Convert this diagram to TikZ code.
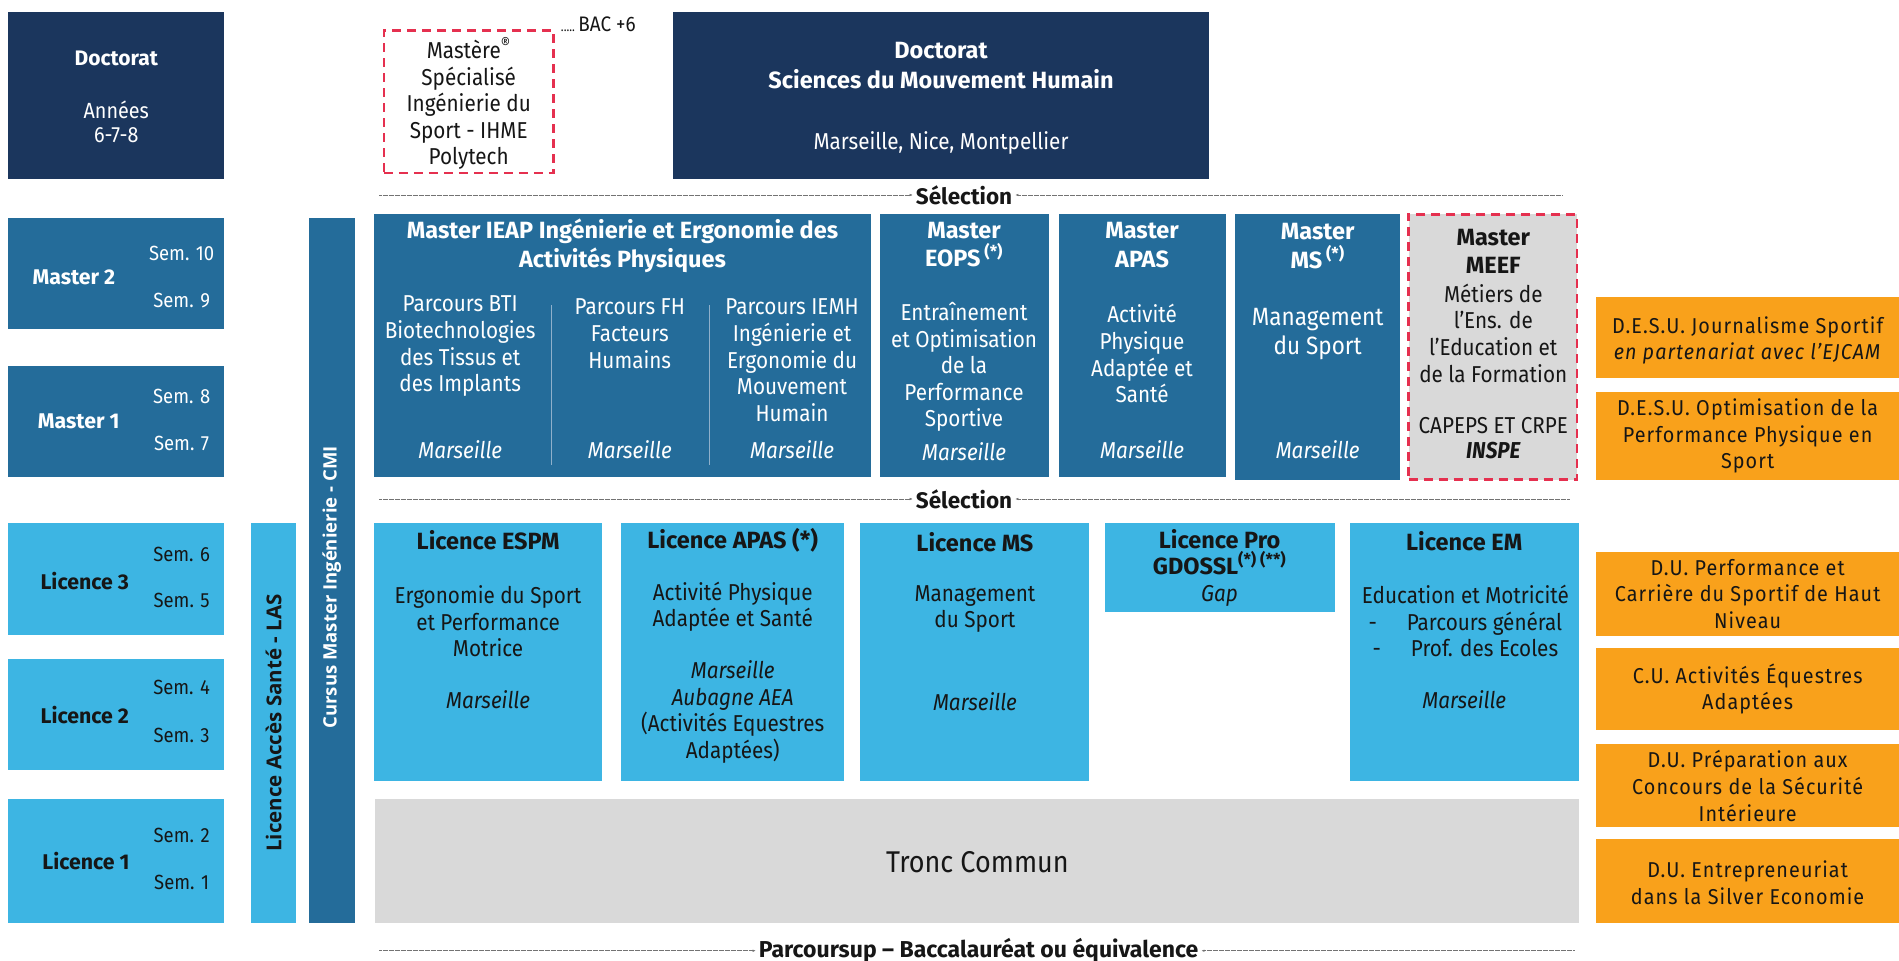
\documentclass[tikz,border=0pt]{standalone}
\usepackage{fontspec}
\setmainfont{Fira Sans}
\newfontfamily\bodyf{Fira Sans}[FakeStretch=0.9]
\newfontfamily\vfont{Open Sans}
\newfontfamily\orfont{Fira Sans}[FakeStretch=0.92,LetterSpace=5]
\usetikzlibrary{arrows.meta}
\definecolor{navy}{HTML}{1B365D}
\definecolor{mblue}{HTML}{246C9A}
\definecolor{lblue}{HTML}{3DB5E3}
\definecolor{lgray}{HTML}{D9D9D9}
\definecolor{orng}{HTML}{F9A11B}
\definecolor{dred}{HTML}{E5304F}
\definecolor{txt}{HTML}{161616}
\definecolor{divc}{HTML}{8FB0CB}
\newcommand\mkbox[6]{\node[#2, anchor=north west, minimum width={(#5-#3)*1.2111pt}, minimum height={(#6-#4)*1.2111pt}] (#1) at (#3,#4) {};}
\tikzset{
  bx/.style={inner sep=0pt, outer sep=0pt, draw=none},
  navyb/.style={bx, fill=navy},
  medb/.style={bx, fill=mblue},
  ltb/.style={bx, fill=lblue},
  grayb/.style={bx, fill=lgray},
  orb/.style={bx, fill=orng},
  redd/.style={draw=dred, line width=2.6pt, dash pattern=on 9pt off 6pt},
  body/.style={inner sep=0pt, align=center, font=\bodyf\fontsize{23}{26.6}\selectfont},
  ibody/.style={body, font=\bodyf\itshape\fontsize{23}{26.6}\selectfont},
  wbody/.style={body, text=white},
  wibody/.style={ibody, text=white},
  kbody/.style={body, text=txt},
  kibody/.style={ibody, text=txt},
  sem/.style={inner sep=0pt, font=\bodyf\fontsize{20.5}{24}\selectfont},
  ttl/.style={inner sep=0pt, align=center, font=\bfseries\fontsize{23.5}{28.5}\selectfont},
  wttl/.style={ttl, text=white},
  kttl/.style={ttl, text=txt},
  lab/.style={inner sep=0pt, font=\bfseries\fontsize{21.3}{25}\selectfont},
  obody/.style={inner sep=0pt, align=center, text=txt, font=\orfont\fontsize{21.5}{26.6}\selectfont},
  vtxt/.style={inner sep=0pt, rotate=90, font=\vfont\bfseries\fontsize{18.5}{22}\selectfont},
  seltxt/.style={inner xsep=3pt, inner ysep=0pt, text=txt, font=\bfseries\fontsize{22.5}{26}\selectfont},
  dl/.style={line width=0.5pt, draw=black!55, dash pattern=on 0.7pt off 0.5pt, -{Latex[length=3pt,width=2.5pt]}},
  divl/.style={line width=0.8pt, draw=divc}
}
\begin{document}
\begin{tikzpicture}[x=1.2111pt, y=-1.2111pt]
\useasboundingbox (0,0) rectangle (1568,793);

% ---------- left column ----------
\mkbox{doc}{navyb}{7}{10}{185}{148}
\node[lab, text=white, font=\bfseries\fontsize{21}{25}\selectfont] (docT) at (96,48) {Doctorat};
\node[wbody, font=\bodyf\fontsize{22}{23.5}\selectfont] (docY) at (96,100.5) {Années\\6-7-8};

\mkbox{m2}{medb}{7}{180}{185}{272}
\node[lab, text=white] (m2T) at (61,229) {Master 2};
\node[sem, text=white] (s10) at (150,209) {Sem. 10};
\node[sem, text=white] (s9) at (150,248) {Sem. 9};

\mkbox{m1}{medb}{7}{302}{185}{394}
\node[lab, text=white] (m1T) at (65,348) {Master 1};
\node[sem, text=white] (s8) at (150,327) {Sem. 8};
\node[sem, text=white] (s7) at (150,366) {Sem. 7};

\mkbox{l3}{ltb}{7}{432}{185}{524}
\node[lab, text=txt] (l3T) at (70,480) {Licence 3};
\node[sem, text=txt] (s6) at (150,458) {Sem. 6};
\node[sem, text=txt] (s5) at (150,496) {Sem. 5};

\mkbox{l2}{ltb}{7}{544}{185}{636}
\node[lab, text=txt] (l2T) at (70,590) {Licence 2};
\node[sem, text=txt] (s4) at (150,568) {Sem. 4};
\node[sem, text=txt] (s3) at (150,607) {Sem. 3};

\mkbox{l1}{ltb}{7}{660}{185}{762}
\node[lab, text=txt] (l1T) at (71,711) {Licence 1};
\node[sem, text=txt] (s2) at (150,690) {Sem. 2};
\node[sem, text=txt] (s1) at (150,729) {Sem. 1};

% ---------- vertical bars ----------
\mkbox{las}{ltb}{207}{432}{244}{762}
\node[vtxt, text=txt, font=\vfont\bfseries\fontsize{20.5}{24}\selectfont] (lasT) at (226,597) {Licence Accès Santé - LAS};
\mkbox{cmi}{medb}{255}{180}{293}{762}
\node[vtxt, text=white] (cmiT) at (274,485) {Cursus Master Ingénierie - CMI};

% ---------- top row ----------
\mkbox{ms}{bx, fill=white, redd}{317}{25}{457}{143}
\node[kbody] (msT) at (387,85.6) {Mastère\textsuperscript{®}\\Spécialisé\\Ingénierie du\\Sport - IHME\\Polytech};
\node[inner sep=0pt, text=txt, font=\bodyf\fontsize{21}{24}\selectfont] (bac) at (494,20) {{\fontsize{13}{14}\selectfont.....}\,BAC +6};

\mkbox{dsmh}{navyb}{556}{10}{998}{148}
\node[wttl, font=\bfseries\fontsize{23.5}{30}\selectfont] (dsmhT) at (777,54.5) {Doctorat\\Sciences du Mouvement Humain};
\node[wbody] (dsmhL) at (777,118) {Marseille, Nice, Montpellier};

% ---------- Sélection 1 ----------
\node[seltxt] (sel1) at (796,161) {Sélection};
\coordinate (s1a) at (313,161);
\coordinate (s1b) at (1290,161);
\draw[dl] (s1a) -- (sel1.west);
\draw[dl] (s1b) -- (sel1.east);

% ---------- Master row ----------
\mkbox{ieap}{medb}{309}{177}{719}{394}
\node[wttl] (ieapT) at (514,203) {Master IEAP Ingénierie et Ergonomie des\\Activités Physiques};
\node[wbody] (bti) at (380,286) {Parcours BTI\\Biotechnologies\\des Tissus et\\des Implants};
\node[wbody] (fh) at (520,275.5) {Parcours FH\\Facteurs\\Humains};
\node[wbody] (iemh) at (654,297.5) {Parcours IEMH\\Ingénierie et\\Ergonomie du\\Mouvement\\Humain};
\node[wibody] (btiL) at (380,371) {Marseille};
\node[wibody] (fhL) at (520,371) {Marseille};
\node[wibody] (iemhL) at (654,371) {Marseille};
\coordinate (d1a) at (455,252); \coordinate (d1b) at (455,384);
\coordinate (d2a) at (586,252); \coordinate (d2b) at (586,384);
\draw[divl] (d1a) -- (d1b);
\draw[divl] (d2a) -- (d2b);

\mkbox{eops}{medb}{727}{177}{866}{394}
\node[wttl] (eopsT) at (796,202) {Master\\EOPS\,\textsuperscript{(*)}};
\node[wbody] (eopsB) at (796,303) {Entraînement\\et Optimisation\\de la\\Performance\\Sportive};
\node[wibody] (eopsL) at (796,373) {Marseille};

\mkbox{mapas}{medb}{874}{177}{1012}{394}
\node[wttl] (mapasT) at (943,202.5) {Master\\APAS};
\node[wbody] (mapasB) at (943,292) {Activité\\Physique\\Adaptée et\\Santé};
\node[wibody] (mapasL) at (943,371) {Marseille};

\mkbox{mms}{medb}{1020}{177}{1156}{396}
\node[wttl] (mmsT) at (1088,203) {Master\\MS\,\textsuperscript{(*)}};
\node[wbody, font=\bodyf\fontsize{25}{29}\selectfont] (mmsB) at (1088,276) {Management\\du Sport};
\node[wibody] (mmsL) at (1088,371) {Marseille};

\mkbox{meef}{grayb, redd}{1163}{177}{1302}{396}
\node[kttl] (meefT) at (1233,207.5) {Master\\MEEF};
\node[kbody] (meefB) at (1233,275) {Métiers de\\l’Ens. de\\l’Education et\\de la Formation};
\node[kbody] (meefC) at (1233,351) {CAPEPS ET CRPE};
\node[kbody, font=\bodyf\bfseries\itshape\fontsize{23}{26.6}\selectfont] (meefI) at (1233,372) {INSPE};

% ---------- Sélection 2 ----------
\node[seltxt] (sel2) at (796,412) {Sélection};
\coordinate (s2a) at (313,412);
\coordinate (s2b) at (1296,412);
\draw[dl] (s2a) -- (sel2.west);
\draw[dl] (s2b) -- (sel2.east);

% ---------- Licence row ----------
\mkbox{espm}{ltb}{309}{432}{497}{645}
\node[kttl] (espmT) at (403,446) {Licence ESPM};
\node[kbody] (espmB) at (403,513) {Ergonomie du Sport\\et Performance\\Motrice};
\node[kibody] (espmL) at (403,578) {Marseille};

\mkbox{lapas}{ltb}{513}{432}{697}{645}
\node[kttl] (lapasT) at (605,446) {Licence APAS (*)};
\node[kbody] (lapasB) at (605,501) {Activité Physique\\Adaptée et Santé};
\node[kbody] (lapasL) at (605,588) {\textit{Marseille}\\\textit{Aubagne AEA}\\(Activités Equestres\\Adaptées)};

\mkbox{lms}{ltb}{710}{432}{899}{645}
\node[kttl] (lmsT) at (805,448) {Licence MS};
\node[kbody] (lmsB) at (805,503) {Management\\du Sport};
\node[kibody] (lmsL) at (805,579) {Marseille};

\mkbox{lpro}{ltb}{912}{432}{1102}{505}
\node[kttl, font=\bfseries\fontsize{23.5}{26}\selectfont] (lproT) at (1007,456) {Licence Pro\\GDOSSL\textsuperscript{(*) (**)}};
\node[kibody] (lproL) at (1007,492) {Gap};

\mkbox{lem}{ltb}{1115}{432}{1304}{645}
\node[kttl] (lemT) at (1209,447) {Licence EM};
\node[kbody] (lemB) at (1210,513) {Education et Motricité\\-\hspace{1.3em}Parcours général\\-\hspace{1.3em}Prof. des Ecoles};
\node[kibody] (lemL) at (1209,578) {Marseille};

% ---------- Tronc commun ----------
\mkbox{tc}{grayb}{310}{660}{1304}{762}
\node[kbody, font=\bodyf\fontsize{30}{34}\selectfont] (tcT) at (807,712) {Tronc Commun};

% ---------- Parcoursup ----------
\node[seltxt, font=\bfseries\fontsize{23}{26}\selectfont] (psup) at (808,785) {Parcoursup – Baccalauréat ou équivalence};
\coordinate (pa) at (313,785);
\coordinate (pb) at (1300,785);
\draw[dl] (pa) -- (psup.west);
\draw[dl] (pb) -- (psup.east);

% ---------- orange column ----------
\mkbox{o1}{orb}{1318}{245}{1568}{312}
\node[obody] (o1T) at (1443,281) {D.E.S.U. Journalisme Sportif\\\textit{en partenariat avec l’EJCAM}};
\mkbox{o2}{orb}{1318}{324}{1568}{396}
\node[obody] (o2T) at (1443,360) {D.E.S.U. Optimisation de la\\Performance Physique en\\Sport};
\mkbox{o3}{orb}{1318}{456}{1568}{525}
\node[obody] (o3T) at (1443,490.5) {D.U. Performance et\\Carrière du Sportif de Haut\\Niveau};
\mkbox{o4}{orb}{1318}{535}{1568}{603}
\node[obody] (o4T) at (1443,569) {C.U. Activités Équestres\\Adaptées};
\mkbox{o5}{orb}{1318}{614}{1568}{683}
\node[obody] (o5T) at (1443,649) {D.U. Préparation aux\\Concours de la Sécurité\\Intérieure};
\mkbox{o6}{orb}{1318}{693}{1568}{762}
\node[obody] (o6T) at (1443,729) {D.U. Entrepreneuriat\\dans la Silver Economie};
\end{tikzpicture}
\end{document}
